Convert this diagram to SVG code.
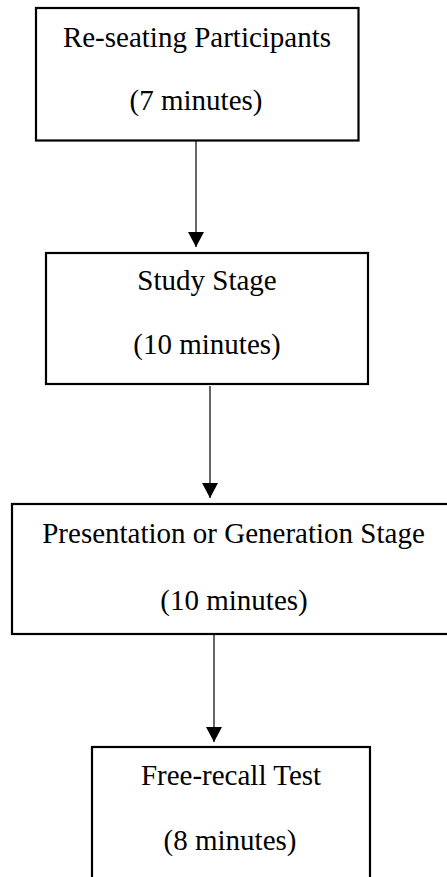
<svg xmlns="http://www.w3.org/2000/svg" width="447" height="877" viewBox="0 0 447 877">
<style>
.box{fill:#fff;stroke:#000;stroke-width:2.2}
.t{font-family:"Liberation Serif","Times New Roman",serif;font-size:29px;fill:#000;text-anchor:middle}
.c{stroke:#000;stroke-width:1.2;fill:none}
</style>
<defs>
<marker id="ah" markerWidth="15" markerHeight="16" refX="15" refY="8" orient="auto" markerUnits="userSpaceOnUse" viewBox="0 0 15 16">
<path d="M0,0 L15,8 L0,16 Z" fill="#000"/>
</marker>
</defs>
<rect width="447" height="877" fill="#fff"/>
<g id="node1">
<rect class="box" x="36" y="8" width="322.5" height="132.5"/>
<text class="t" x="197" y="47">Re-seating Participants</text>
<text class="t" x="196" y="110">(7 minutes)</text>
</g>
<g id="node2">
<rect class="box" x="46" y="253" width="322" height="131"/>
<text class="t" x="207" y="290">Study Stage</text>
<text class="t" x="207" y="354">(10 minutes)</text>
</g>
<g id="node3">
<rect class="box" x="12" y="504" width="460" height="130"/>
<text class="t" x="233.5" y="543">Presentation or Generation Stage</text>
<text class="t" x="234" y="610">(10 minutes)</text>
</g>
<g id="node4">
<rect class="box" x="92" y="747" width="278" height="150"/>
<text class="t" x="231" y="785">Free-recall Test</text>
<text class="t" x="230" y="850">(8 minutes)</text>
</g>
<g id="connectors">
<line class="c" x1="196" y1="141" x2="196" y2="247" marker-end="url(#ah)"/>
<line class="c" x1="210" y1="386" x2="210" y2="498" marker-end="url(#ah)"/>
<line class="c" x1="214" y1="633" x2="214" y2="742" marker-end="url(#ah)"/>
</g>
</svg>
